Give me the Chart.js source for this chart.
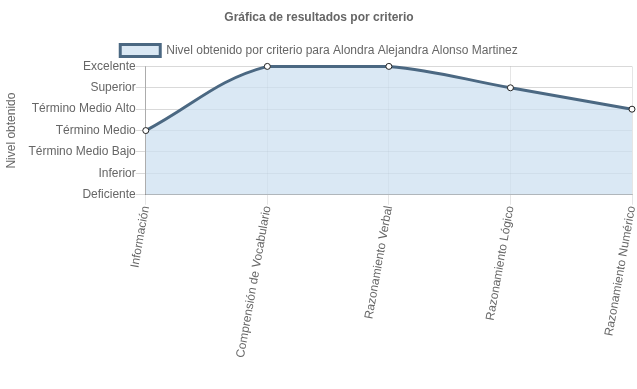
<!DOCTYPE html>
<html>
<head>
<meta charset="utf-8">
<script src="https://cdn.jsdelivr.net/npm/chart.js@4"></script>
<style>
  body { margin: 0; background: #fff; }
  #wrap { width: 637px; height: 389px; }
</style>
</head>
<body>
<div id="wrap"><canvas id="chartCanvas"></canvas></div>
<script>
const criterios = ['Información', 'Comprensión de Vocabulario', 'Razonamiento Verbal', 'Razonamiento Lógico', 'Razonamiento Numérico'];
const niveles = ['Deficiente', 'Inferior', 'Término Medio Bajo', 'Término Medio', 'Término Medio Alto', 'Superior', 'Excelente'];
const resultados = [3, 6, 6, 5, 4];

Chart.defaults.font.family = "'Liberation Sans', Arial, sans-serif";
Chart.defaults.font.size = 12;
Chart.defaults.color = '#666';

const ctx = document.getElementById('chartCanvas').getContext('2d');

new Chart(ctx, {
    type: 'line',
    data: {
        labels: criterios,
        datasets: [{
            label: 'Nivel obtenido por criterio para Alondra Alejandra Alonso Martinez',
            data: resultados,
            borderColor: '#4b6882',
            backgroundColor: 'rgba(204, 223, 240, 0.72)',
            borderWidth: 3,
            fill: 'origin',
            tension: 0.4,
            pointRadius: 3,
            pointBorderWidth: 1,
            pointBackgroundColor: '#fff',
            pointBorderColor: '#222',
            clip: false
        }]
    },
    options: {
        responsive: true,
        maintainAspectRatio: false,
        animation: false,
        layout: { padding: { left: 4, right: 3, bottom: 30 } },
        plugins: {
            title: {
                display: true,
                text: 'Gráfica de resultados por criterio',
                font: { weight: 'bold', size: 12 },
                color: '#666',
                padding: { top: 10, bottom: 10 }
            },
            legend: {
                labels: { boxWidth: 40, boxHeight: 12, padding: 10 }
            },
            tooltip: { enabled: false }
        },
        scales: {
            x: {
                grid: { color: 'rgba(0,0,0,0.1)', tickLength: 10 },
                border: { color: 'rgba(0,0,0,0.25)' },
                ticks: { minRotation: 80, maxRotation: 80, padding: 0 },
                afterFit: (scale) => { scale.paddingRight = 0; }
            },
            y: {
                min: 0,
                max: 6,
                grid: { color: 'rgba(0,0,0,0.15)', tickLength: 10 },
                border: { color: 'rgba(0,0,0,0.25)' },
                title: { display: true, text: 'Nivel obtenido', padding: { top: 0, bottom: 10 } },
                ticks: {
                    stepSize: 1,
                    padding: 0,
                    callback: (v) => niveles[v]
                }
            }
        }
    }
});
</script>
</body>
</html>
